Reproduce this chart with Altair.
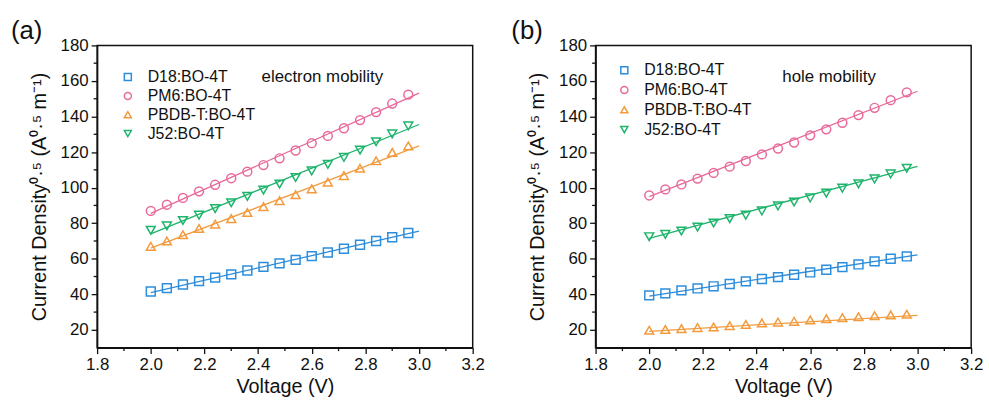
import altair as alt
import pandas as pd

FONT = "Liberation Sans"

# ---------------- data ----------------
V = [2.00, 2.06, 2.12, 2.18, 2.24, 2.30, 2.36, 2.42, 2.48, 2.54,
     2.60, 2.66, 2.72, 2.78, 2.84, 2.90, 2.96]
series = ["D18:BO-4T", "PM6:BO-4T", "PBDB-T:BO-4T", "J52:BO-4T"]
colors = ["#2b8ddb", "#e8699b", "#f29b3e", "#1fb46c"]
shapes = ["square", "circle", "triangle-up", "triangle-down"]

# (a) electron mobility
elec_D18 = [41.6, 43.5, 45.5, 47.4, 49.4, 51.2, 53.4, 55.4, 57.4, 59.4,
            61.5, 63.5, 65.6, 67.9, 70.0, 72.1, 74.5]
elec_PM6 = [86.9, 90.4, 94.2, 97.9, 101.6, 105.3, 109.0, 112.7, 116.5, 120.9,
            125.0, 129.1, 133.4, 138.0, 142.5, 147.3, 152.3]
elec_PBDB = [67.0, 70.0, 73.5, 77.0, 79.5, 82.6, 86.0, 89.3, 92.7, 96.0,
             99.3, 103.1, 106.8, 110.9, 115.1, 119.8, 123.5]
elec_J52 = [76.0, 78.5, 81.5, 84.5, 88.2, 91.5, 95.1, 98.6, 102.0, 105.7,
            109.4, 113.1, 117.0, 121.1, 125.8, 130.2, 134.7]

# (b) hole mobility
hole_D18 = [39.4, 40.5, 42.2, 43.3, 44.5, 45.8, 47.3, 48.6, 49.7, 51.0,
            52.3, 53.8, 55.3, 56.8, 58.5, 60.0, 61.3]
hole_PM6 = [95.6, 99.0, 101.8, 105.1, 108.3, 111.8, 115.0, 118.7, 122.0, 125.4,
            129.4, 132.8, 136.5, 140.8, 144.9, 149.2, 153.6]
hole_PBDB = [19.8, 20.2, 20.7, 21.3, 21.6, 22.4, 23.1, 23.9, 24.4, 24.8,
             25.6, 26.3, 26.9, 27.4, 28.0, 28.4, 28.8]
hole_J52 = [72.4, 73.7, 75.6, 77.8, 80.1, 82.6, 84.5, 86.9, 89.7, 91.9,
            94.2, 96.9, 99.7, 102.1, 104.9, 107.7, 110.9]

# linear fits (value at V = 2.0 and at V = 3.0)
fit_V = [2.0, 3.0]
elec_fit_start = [41.0, 85.5, 66.0, 74.0]
elec_fit_end = [75.6, 153.2, 123.5, 135.5]
hole_fit_start = [39.0, 95.0, 19.2, 71.5]
hole_fit_end = [62.2, 154.2, 28.2, 112.0]

x_major = [1.8, 2.0, 2.2, 2.4, 2.6, 2.8, 3.0, 3.2]
x_minor = [1.9, 2.1, 2.3, 2.5, 2.7, 2.9, 3.1]
y_major = [20, 40, 60, 80, 100, 120, 140, 160, 180]
y_minor = [30, 50, 70, 90, 110, 130, 150, 170]

Y_TITLE = "Current Density\u2070\u00b7\u2075 (A\u2070\u00b7\u2075 m\u207b\u00b9)"

W, H = 379, 305
INK = "#111111"


def panel(tag, note, note_x, note_y, ys_data, fit_start, fit_end,
          leg_x, leg_y, leg_step, title_dx):
    rows = []
    for name, vals in zip(series, ys_data):
        for v, j in zip(V, vals):
            rows.append({"V": v, "J": j, "series": name})
    pts = pd.DataFrame(rows)

    frows = []
    for name, a, b in zip(series, fit_start, fit_end):
        frows.append({"V": fit_V[0], "J": a, "series": name})
        frows.append({"V": fit_V[1], "J": b, "series": name})
    fits = pd.DataFrame(frows)

    note_df = pd.DataFrame({"V": [note_x], "J": [note_y], "t": [note]})
    leg_df = pd.DataFrame({"series": series, "row": list(range(len(series)))})

    xs = alt.Scale(domain=[1.8, 3.2], nice=False, zero=False)
    ysc = alt.Scale(domain=[10, 180], nice=False, zero=False)
    cscale = alt.Scale(domain=series, range=colors)
    sscale = alt.Scale(domain=series, range=shapes)

    x_axis = alt.Axis(values=x_major, title="Voltage (V)", grid=False,
                      labelOverlap=False, labelFlush=False)
    y_axis = alt.Axis(values=y_major, title=Y_TITLE, grid=False,
                      labelOverlap=False, labelFlush=False)

    lines = alt.Chart(fits).mark_line(strokeWidth=1.3, clip=True).encode(
        x=alt.X("V:Q", scale=xs, axis=x_axis),
        y=alt.Y("J:Q", scale=ysc, axis=y_axis),
        color=alt.Color("series:N", scale=cscale, legend=None),
        detail="series:N",
    )

    points = alt.Chart(pts).mark_point(filled=False, size=80, strokeWidth=1.5,
                                       opacity=1).encode(
        x=alt.X("V:Q", scale=xs, axis=x_axis),
        y=alt.Y("J:Q", scale=ysc, axis=y_axis),
        color=alt.Color("series:N", scale=cscale, legend=None),
        shape=alt.Shape("series:N", scale=sscale, legend=None),
    )

    text = alt.Chart(note_df).mark_text(
        align="left", baseline="middle", font=FONT, fontSize=17, color=INK
    ).encode(
        x=alt.X("V:Q", scale=xs, axis=x_axis),
        y=alt.Y("J:Q", scale=ysc, axis=y_axis),
        text="t:N",
    )

    # legend drawn from the series list (pixel layout via scale=None)
    leg_base = alt.Chart(leg_df).transform_calculate(
        ypix=f"{leg_y} + datum.row * {leg_step}"
    )
    leg_sym = leg_base.mark_point(filled=False, size=50, strokeWidth=1.5,
                                  opacity=1).encode(
        x=alt.value(leg_x),
        y=alt.Y("ypix:Q", scale=None),
        color=alt.Color("series:N", scale=cscale, legend=None),
        shape=alt.Shape("series:N", scale=sscale, legend=None),
    )
    leg_txt = leg_base.mark_text(
        align="left", baseline="middle", font=FONT, fontSize=16, color=INK
    ).encode(
        x=alt.value(leg_x + 20),
        y=alt.Y("ypix:Q", scale=None),
        text="series:N",
    )

    xminor = alt.Chart(pd.DataFrame({"mx": x_minor})).mark_rule(
        color=INK, strokeWidth=1.3
    ).encode(
        x=alt.X("mx:Q", scale=xs, axis=x_axis),
        y=alt.value(H), y2=alt.value(H + 3.5),
    )
    yminor = alt.Chart(pd.DataFrame({"my": y_minor})).mark_rule(
        color=INK, strokeWidth=1.3
    ).encode(
        y=alt.Y("my:Q", scale=ysc, axis=y_axis),
        x=alt.value(-3.5), x2=alt.value(0),
    )

    return alt.layer(lines, points, text, leg_sym, leg_txt, xminor, yminor).properties(
        width=W, height=H,
        title=alt.TitleParams(tag, anchor="start", frame="group", dx=title_dx,
                              fontSize=26, font=FONT, fontWeight="normal",
                              color=INK, offset=-8),
    )


pa = panel("(a)", "electron mobility", 2.413, 162,
           [elec_D18, elec_PM6, elec_PBDB, elec_J52],
           elec_fit_start, elec_fit_end, 31, 32, 19, -87)
pb = panel("(b)", "hole mobility", 2.496, 162,
           [hole_D18, hole_PM6, hole_PBDB, hole_J52],
           hole_fit_start, hole_fit_end, 29, 25, 20, -85)

chart = alt.hconcat(pa, pb, spacing=25).properties(
    padding={"left": 10, "top": 16, "right": 5, "bottom": 0}
).configure_view(
    stroke=INK, strokeWidth=1.5
).configure_axis(
    labelFont=FONT, labelFontSize=17, labelColor=INK,
    titleFont=FONT, titleFontSize=20, titleFontWeight="normal", titleColor=INK,
    domainColor=INK, domainWidth=1.5, tickColor=INK, tickWidth=1.3,
    tickSize=6, labelPadding=3, labelOverlap=False, labelFlush=False,
).configure_axisX(
    titlePadding=4, labelPadding=3,
).configure_axisY(
    titlePadding=11,
)

chart.save("out.html", embed_options={"renderer": "svg", "actions": False})
